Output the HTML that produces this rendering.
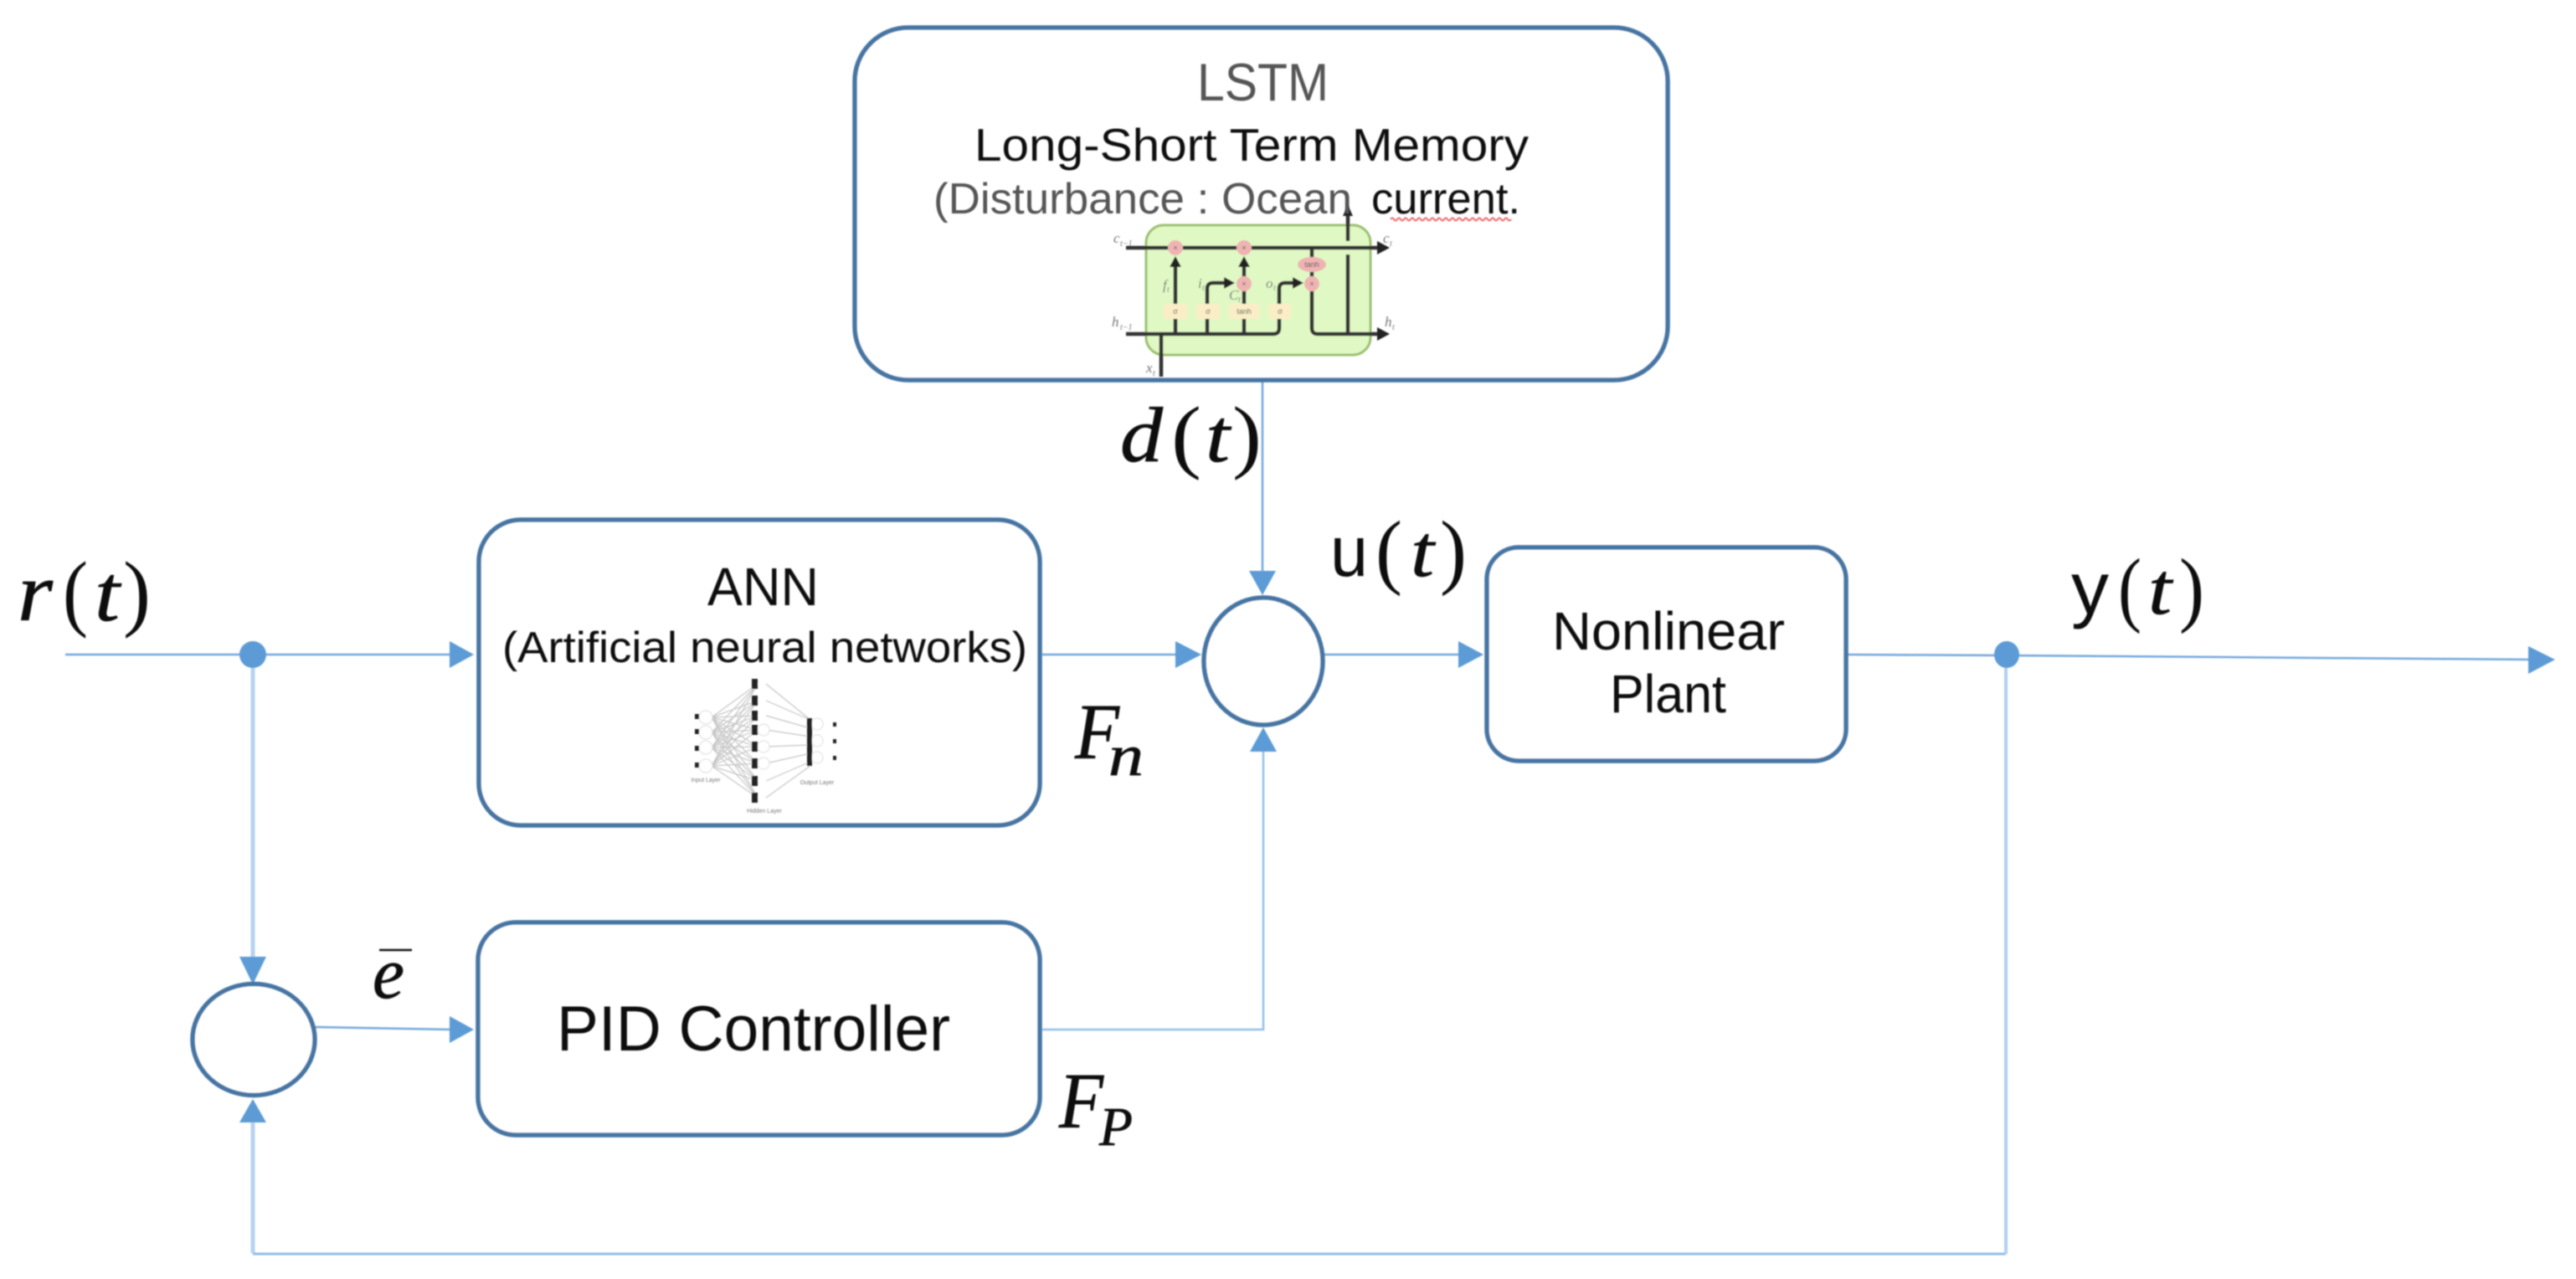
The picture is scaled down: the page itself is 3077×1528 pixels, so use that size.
<!DOCTYPE html>
<html lang="en">
<head>
<meta charset="utf-8">
<title>LSTM ANN PID control diagram</title>
<style>
html,body{margin:0;padding:0;background:#fff;}
svg{display:block;}
text{font-family:"Liberation Sans",sans-serif;fill:#111;}
.m{font-family:"Liberation Serif",serif;font-style:italic;fill:#111;stroke:#111;stroke-width:0.7;}
.u{font-family:"Liberation Serif",serif;fill:#111;}
.s{font-family:"Liberation Sans",sans-serif;fill:#111;}
.tiny{font-family:"Liberation Serif",serif;font-style:italic;fill:#777;}
.box{fill:#fff;stroke:#4474a3;stroke-width:5.5;}
.c{fill:none;stroke:#73a8de;stroke-width:2.5;}
.cl{fill:none;stroke:#b5d3f0;stroke-width:5;}
.h{fill:#5b9bd5;}
</style>
</head>
<body>
<svg width="3077" height="1528" viewBox="0 0 3077 1528" xmlns="http://www.w3.org/2000/svg">
<defs>
<filter id="b1" x="-5%" y="-5%" width="110%" height="110%"><feGaussianBlur stdDeviation="0.9"/></filter>
<filter id="b2" x="-5%" y="-5%" width="110%" height="110%"><feGaussianBlur stdDeviation="0.7"/></filter>
</defs>
<rect width="3077" height="1528" fill="#fff"/>

<g filter="url(#b2)">
<!-- connectors -->
<path class="c" d="M78 782H540"/>
<path class="cl" d="M302 782V1145"/>
<path class="c" d="M376 1227L540 1230"/>
<path class="cl" d="M302 1340V1497"/>
<path class="c" style="stroke-width:3;stroke:#8fbce8" d="M302 1498H2396"/>
<path class="c" style="stroke-width:4;stroke:#b0d0ef" d="M2396 782V1498"/>
<path class="c" d="M1508 455V685"/>
<path class="c" d="M1245 782H1410"/>
<path class="c" d="M1582 782H1745"/>
<path class="c" style="stroke:#93bfea" d="M1245 1230H1509V896"/>
<path class="c" d="M2205 782L2396 783"/>
<path class="c" d="M2396 783L3025 788"/>

<!-- arrowheads -->
<polygon class="h" points="566,782 537,766 537,798"/>
<polygon class="h" points="566,1230 537,1214 537,1246"/>
<polygon class="h" points="302,1176 286,1143 318,1143"/>
<polygon class="h" points="302,1313 286,1341 318,1341"/>
<polygon class="h" points="1508,711 1492,682 1524,682"/>
<polygon class="h" points="1435,782 1404,766 1404,798"/>
<polygon class="h" points="1772,782 1742,766 1742,798"/>
<polygon class="h" points="1509,869 1493,898 1525,898"/>
<polygon class="h" points="3052,788 3020,772 3020,805"/>

<!-- junction dots -->
<ellipse class="h" cx="302" cy="782" rx="16" ry="16"/>
<ellipse class="h" cx="2397" cy="782" rx="15" ry="16"/>

<!-- boxes -->
<rect class="box" x="1021" y="33" width="971" height="421" rx="64" ry="64"/>
<rect class="box" x="572" y="621" width="670" height="365" rx="50" ry="50"/>
<rect class="box" x="571" y="1102" width="671" height="254" rx="45" ry="45"/>
<rect class="box" x="1776" y="654" width="429" height="255" rx="38" ry="38"/>
<ellipse class="box" cx="1509" cy="790" rx="71" ry="76"/>
<ellipse class="box" cx="303" cy="1242" rx="73" ry="66.5"/>
</g>

<!-- LSTM cell inset -->
<g filter="url(#b1)">
<rect x="1369" y="269" width="268" height="155" rx="21" ry="21" fill="#e0f9c4" stroke="#9cbf72" stroke-width="3"/>
<g fill="none" stroke="#333" stroke-width="4.5">
<path d="M1345 296H1648"/>
<path d="M1345 399H1521Q1528 399 1528 392V345Q1528 338 1535 338H1548"/>
<path d="M1404 399V318"/>
<path d="M1442 399V345Q1442 338 1449 338H1462"/>
<path d="M1486 399V318"/>
<path d="M1567 296V392Q1567 399 1574 399H1648"/>
<path d="M1610 399V304"/>
<path d="M1610 288V256"/>
<path d="M1387 399V450"/>
</g>
<g fill="#222">
<polygon points="1660,296 1645,288 1645,304"/>
<polygon points="1660,399 1645,391 1645,407"/>
<polygon points="1404,306 1397,319 1411,319"/>
<polygon points="1486,306 1479,319 1493,319"/>
<polygon points="1475,338 1462,331 1462,345"/>
<polygon points="1557,338 1544,331 1544,345"/>
<polygon points="1610,245 1604,258 1616,258"/>
</g>
<g fill="#eeb4b2">
<circle cx="1404" cy="296" r="9"/>
<circle cx="1486" cy="296" r="9"/>
<circle cx="1486" cy="339" r="9"/>
<circle cx="1567" cy="339" r="9"/>
<ellipse cx="1567" cy="316" rx="17" ry="9"/>
</g>
<g fill="#fbeec6">
<rect x="1390" y="363" width="28" height="18"/>
<rect x="1429" y="363" width="28" height="18"/>
<rect x="1468" y="363" width="36" height="18"/>
<rect x="1516" y="363" width="26" height="18"/>
</g>
<g font-size="9" text-anchor="middle" style="fill:#444">
<text x="1404" y="299" style="fill:#555">×</text>
<text x="1486" y="299" style="fill:#555">×</text>
<text x="1486" y="342" style="fill:#555">×</text>
<text x="1567" y="342" style="fill:#555">×</text>
<text x="1567" y="319" style="fill:#555">tanh</text>
<text x="1404" y="375" style="fill:#555">σ</text>
<text x="1443" y="375" style="fill:#555">σ</text>
<text x="1486" y="375" style="fill:#555">tanh</text>
<text x="1529" y="375" style="fill:#555">σ</text>
</g>
<g font-size="17">
<text class="tiny" x="1330" y="290">c</text><text class="tiny" x="1338" y="294" font-size="10">t−1</text>
<text class="tiny" x="1652" y="290">c</text><text class="tiny" x="1660" y="294" font-size="10">t</text>
<text class="tiny" x="1328" y="390">h</text><text class="tiny" x="1338" y="394" font-size="10">t−1</text>
<text class="tiny" x="1654" y="390">h</text><text class="tiny" x="1663" y="394" font-size="10">t</text>
<text class="tiny" x="1369" y="445">x</text><text class="tiny" x="1377" y="449" font-size="10">t</text>
<text class="tiny" x="1389" y="346">f</text><text class="tiny" x="1394" y="349" font-size="10">t</text>
<text class="tiny" x="1431" y="344">i</text><text class="tiny" x="1436" y="347" font-size="10">t</text>
<text class="tiny" x="1512" y="344">o</text><text class="tiny" x="1521" y="347" font-size="10">t</text>
<text class="tiny" x="1468" y="358">C</text><text class="tiny" x="1479" y="361" font-size="10">t</text>
</g>
</g>

<!-- ANN inset -->
<g filter="url(#b1)">
<g stroke="#c6c6c6" stroke-width="1.2" fill="none">
<path d="M850 857L905 817M850 857L905 837M850 857L905 855M850 857L905 872M850 857L905 892M850 857L905 912M850 857L905 933M850 857L905 953"/>
<path d="M850 875L905 817M850 875L905 837M850 875L905 855M850 875L905 872M850 875L905 892M850 875L905 912M850 875L905 933M850 875L905 953"/>
<path d="M850 893L905 817M850 893L905 837M850 893L905 855M850 893L905 872M850 893L905 892M850 893L905 912M850 893L905 933M850 893L905 953"/>
<path d="M850 915L905 817M850 915L905 837M850 915L905 855M850 915L905 872M850 915L905 892M850 915L905 912M850 915L905 933M850 915L905 953"/>
<path d="M915 817L968 860M915 837L968 860M915 855L968 870M915 872L968 880M915 892L968 890M915 912L968 900M915 933L968 910M915 953L968 915"/>
</g>
<g fill="#fff" stroke="#ddd" stroke-width="1">
<circle cx="843" cy="857" r="8"/><circle cx="843" cy="875" r="8"/><circle cx="843" cy="893" r="8"/><circle cx="843" cy="915" r="8"/>
<circle cx="912" cy="872" r="7"/><circle cx="912" cy="892" r="7"/><circle cx="912" cy="912" r="7"/>
<circle cx="976" cy="865" r="7"/><circle cx="976" cy="885" r="7"/><circle cx="976" cy="905" r="7"/>
</g>
<g fill="#222">
<rect x="898" y="811" width="7" height="12"/><rect x="898" y="831" width="7" height="12"/><rect x="898" y="849" width="7" height="12"/>
<rect x="898" y="866" width="7" height="12"/><rect x="898" y="886" width="7" height="12"/><rect x="898" y="906" width="7" height="12"/>
<rect x="898" y="927" width="7" height="12"/><rect x="898" y="947" width="7" height="12"/>
<rect x="964" y="858" width="6" height="57"/>
<rect x="830" y="853" width="5" height="6"/><rect x="830" y="871" width="5" height="6"/><rect x="830" y="891" width="5" height="6"/><rect x="830" y="911" width="5" height="6"/>
<rect x="995" y="863" width="4" height="5"/><rect x="995" y="883" width="4" height="5"/><rect x="995" y="903" width="4" height="5"/>
</g>
<g font-size="7" text-anchor="middle">
<text x="843" y="934" style="fill:#777">Input Layer</text>
<text x="913" y="971" style="fill:#777">Hidden Layer</text>
<text x="976" y="937" style="fill:#777">Output Layer</text>
</g>
</g>

<!-- labels -->
<g filter="url(#b2)">
<text class="s" x="1430" y="120" font-size="63" textLength="157" lengthAdjust="spacingAndGlyphs" style="fill:#555">LSTM</text>
<text class="s" x="1164" y="192" font-size="55" textLength="662" lengthAdjust="spacingAndGlyphs">Long-Short Term Memory</text>
<text class="s" x="1115" y="255" font-size="52" textLength="500" lengthAdjust="spacingAndGlyphs" style="fill:#555">(Disturbance : Ocean</text>
<text class="s" x="1638" y="255" font-size="52" textLength="178" lengthAdjust="spacingAndGlyphs">current.</text>
<path d="M1661 262q2-3 4 0t4 0 4 0 4 0 4 0 4 0 4 0 4 0 4 0 4 0 4 0 4 0 4 0 4 0 4 0 4 0 4 0 4 0 4 0 4 0 4 0 4 0 4 0 4 0 4 0 4 0 4 0 4 0 4 0 4 0 4 0 4 0 4 0 4 0 4 0 4 0" fill="none" stroke="#e66" stroke-width="2"/>

<text class="s" x="845" y="723" font-size="64" textLength="133" lengthAdjust="spacingAndGlyphs">ANN</text>
<text class="s" x="600" y="791" font-size="52" textLength="627" lengthAdjust="spacingAndGlyphs">(Artificial neural networks)</text>
<text class="s" x="665" y="1255" font-size="76" textLength="470" lengthAdjust="spacingAndGlyphs">PID Controller</text>
<text class="s" x="1854" y="776" font-size="64" textLength="278" lengthAdjust="spacingAndGlyphs">Nonlinear</text>
<text class="s" x="1923" y="851" font-size="64" textLength="139" lengthAdjust="spacingAndGlyphs">Plant</text>

<text class="m" x="21" y="741" font-size="100" textLength="42" lengthAdjust="spacingAndGlyphs">r</text>
<text class="u" x="75" y="741" font-size="102" textLength="30" lengthAdjust="spacingAndGlyphs">(</text>
<text class="m" x="113" y="741" font-size="95" textLength="30" lengthAdjust="spacingAndGlyphs">t</text>
<text class="u" x="147" y="741" font-size="102" textLength="33" lengthAdjust="spacingAndGlyphs">)</text>

<text class="m" x="1338" y="551" font-size="93" textLength="51" lengthAdjust="spacingAndGlyphs">d</text>
<text class="u" x="1399" y="553" font-size="98" textLength="36" lengthAdjust="spacingAndGlyphs">(</text>
<text class="m" x="1440" y="551" font-size="90" textLength="29" lengthAdjust="spacingAndGlyphs">t</text>
<text class="u" x="1472" y="553" font-size="98" textLength="35" lengthAdjust="spacingAndGlyphs">)</text>

<text class="s" x="1589" y="688" font-size="85" textLength="45" lengthAdjust="spacingAndGlyphs">u</text>
<text class="u" x="1643" y="691" font-size="100" textLength="32" lengthAdjust="spacingAndGlyphs">(</text>
<text class="m" x="1685" y="688" font-size="88" textLength="28" lengthAdjust="spacingAndGlyphs">t</text>
<text class="u" x="1720" y="691" font-size="100" textLength="32" lengthAdjust="spacingAndGlyphs">)</text>

<text class="s" x="2474" y="733" font-size="88" textLength="45" lengthAdjust="spacingAndGlyphs">y</text>
<text class="u" x="2530" y="736" font-size="100" textLength="28" lengthAdjust="spacingAndGlyphs">(</text>
<text class="m" x="2566" y="733" font-size="88" textLength="28" lengthAdjust="spacingAndGlyphs">t</text>
<text class="u" x="2603" y="736" font-size="100" textLength="30" lengthAdjust="spacingAndGlyphs">)</text>

<text class="m" x="1284" y="906" font-size="94" textLength="53" lengthAdjust="spacingAndGlyphs">F</text>
<text class="m" x="1324" y="926" font-size="70" textLength="42" lengthAdjust="spacingAndGlyphs">n</text>
<text class="m" x="1265" y="1347" font-size="94" textLength="53" lengthAdjust="spacingAndGlyphs">F</text>
<text class="m" x="1313" y="1368" font-size="66" textLength="40" lengthAdjust="spacingAndGlyphs">P</text>

<text class="m" x="445" y="1192" font-size="88" textLength="38" lengthAdjust="spacingAndGlyphs">e</text>
<path d="M453 1135H492" stroke="#111" stroke-width="2.5" fill="none"/>
</g>
</svg>
</body>
</html>
